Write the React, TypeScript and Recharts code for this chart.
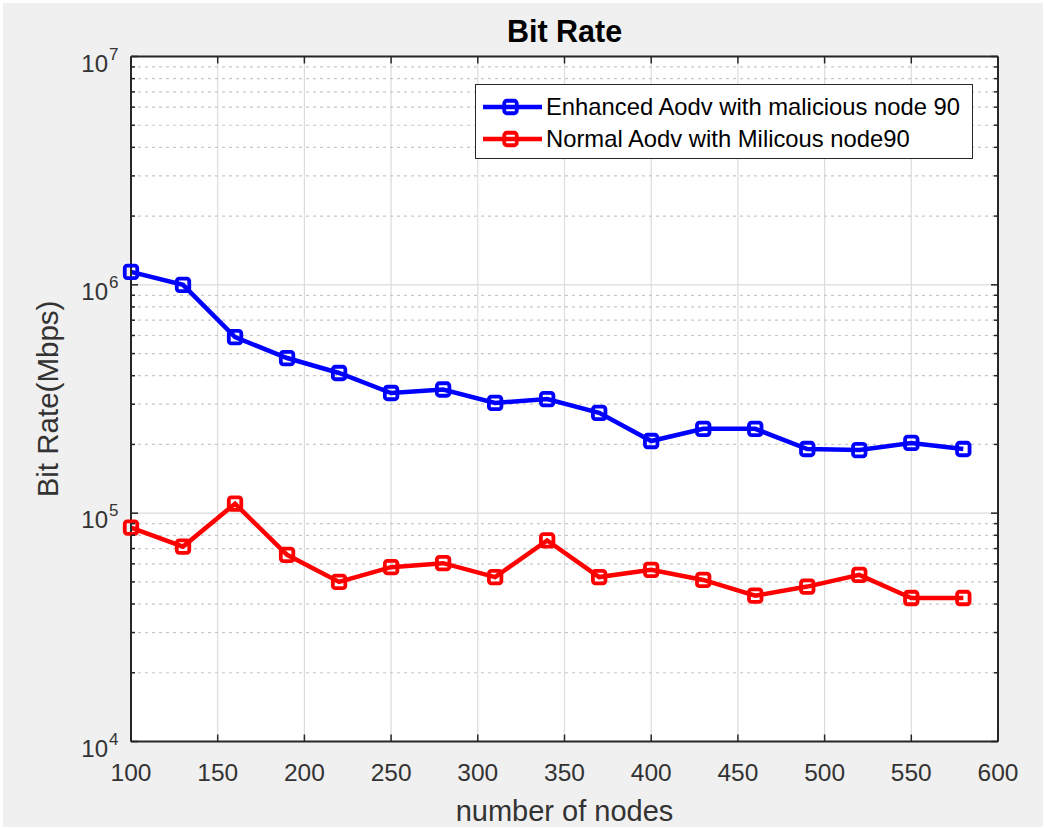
import React from 'react';
import { LineChart, Line, XAxis, YAxis, CartesianGrid, Legend, Label } from 'recharts';

// Number of nodes in the network (x axis)
const nodes = [100, 130, 160, 190, 220, 250, 280, 310, 340, 370, 400, 430, 460, 490, 520, 550, 580];

// Bit rate of the enhanced AODV protocol with a malicious node
const enhancedRate = [
  1.14e6, 1.0e6, 5.9e5, 4.78e5, 4.11e5, 3.36e5, 3.48e5, 3.04e5, 3.16e5,
  2.75e5, 2.07e5, 2.34e5, 2.34e5, 1.91e5, 1.89e5, 2.03e5, 1.91e5,
];

// Bit rate of the normal AODV protocol with a malicious node
const normalRate = [
  8.65e4, 7.14e4, 1.1e5, 6.57e4, 5.0e4, 5.8e4, 6.04e4, 5.25e4, 7.6e4,
  5.25e4, 5.65e4, 5.1e4, 4.35e4, 4.77e4, 5.37e4, 4.25e4, 4.25e4,
];

const seriesNames = ['Enhanced Aodv with malicious node 90', 'Normal Aodv with Milicous node90'];

const xTicks = [100, 150, 200, 250, 300, 350, 400, 450, 500, 550, 600];
const yMajorTicks = [1e4, 1e5, 1e6, 1e7];
const yMinorTicks = [
  2e4, 3e4, 4e4, 5e4, 6e4, 7e4, 8e4, 9e4,
  2e5, 3e5, 4e5, 5e5, 6e5, 7e5, 8e5, 9e5,
  2e6, 3e6, 4e6, 5e6, 6e6, 7e6, 8e6, 9e6,
];
const yAllTicks = [...yMajorTicks, ...yMinorTicks].sort((a, b) => a - b);

const data = nodes.map((n, i) => ({ nodes: n, enhanced: enhancedRate[i], normal: normalRate[i] }));

const FONT = '"Liberation Sans", Arial, Helvetica, sans-serif';
const AXIS_COLOR = '#262626';
const TEXT_COLOR = '#333333';
const LINE_W = 4.5;

const isDecade = (v: number) => {
  const l = Math.log10(v);
  return Math.abs(l - Math.round(l)) < 1e-9;
};

const LeftTick = (props: any) => {
  const { x, y, payload } = props;
  const v = payload.value;
  const major = isDecade(v);
  const len = major ? 7 : 4;
  return (
    <g>
      <line x1={x} y1={y} x2={x + len} y2={y} stroke={AXIS_COLOR} strokeWidth={1.5} />
      {major && (
        <>
          <text x={x - 23} y={y + 15} textAnchor="end" fontFamily={FONT} fontSize={24} fill={TEXT_COLOR}>
            10
          </text>
          <text x={x - 22} y={y + 3} textAnchor="start" fontFamily={FONT} fontSize={17} fill={TEXT_COLOR}>
            {Math.round(Math.log10(v))}
          </text>
        </>
      )}
    </g>
  );
};

const RightTick = (props: any) => {
  const { x, y, payload } = props;
  const len = isDecade(payload.value) ? 7 : 4;
  return <line x1={x} y1={y} x2={x - len} y2={y} stroke={AXIS_COLOR} strokeWidth={1.5} />;
};

const BottomTick = (props: any) => {
  const { x, y, payload } = props;
  return (
    <g>
      <line x1={x} y1={y} x2={x} y2={y - 7} stroke={AXIS_COLOR} strokeWidth={1.5} />
      <text x={x} y={y + 39.5} textAnchor="middle" fontFamily={FONT} fontSize={24.5} fill={TEXT_COLOR}>
        {payload.value}
      </text>
    </g>
  );
};

const TopTick = (props: any) => {
  const { x, y } = props;
  return <line x1={x} y1={y} x2={x} y2={y + 7} stroke={AXIS_COLOR} strokeWidth={1.5} />;
};

const makeSquare = (color: string) => (p: any) => (
  <rect
    key={`${color}-${p.index}`}
    x={p.cx - 6.25}
    y={p.cy - 6.25}
    width={12.5}
    height={12.5}
    rx={2.5}
    fill="none"
    stroke={color}
    strokeWidth={3.8}
  />
);

const LegendBox = (props: any) => {
  const items = props.payload || [];
  return (
    <div
      style={{
        width: 498,
        height: 75,
        boxSizing: 'border-box',
        border: `1.5px solid ${AXIS_COLOR}`,
        background: '#ffffff',
        padding: '6px 0 0 0',
        fontFamily: FONT,
        fontSize: 23.8,
        color: '#000000',
      }}
    >
      {items.map((it: any) => (
        <div key={it.value} style={{ display: 'flex', alignItems: 'center', height: 32 }}>
          <svg width={68} height={20} style={{ marginLeft: 2, flex: 'none' }}>
            <line x1={5} y1={10} x2={64} y2={10} stroke={it.color} strokeWidth={LINE_W} />
            <rect x={26.25} y={3.75} width={12.5} height={12.5} rx={2.5} fill="none" stroke={it.color} strokeWidth={3.8} />
          </svg>
          <span style={{ whiteSpace: 'nowrap' }}>{it.value}</span>
        </div>
      ))}
    </div>
  );
};

export default function App() {
  return (
    <div
      style={{
        position: 'absolute',
        left: 0,
        top: 0,
        width: 1045,
        height: 829,
        boxSizing: 'border-box',
        background: '#f0f0f0',
        borderTop: '3px solid #ffffff',
        borderLeft: '3px solid #ffffff',
        borderRight: '2px solid #ffffff',
        borderBottom: '2px solid #ffffff',
      }}
    >
      <div style={{ position: 'absolute', left: -3, top: -3 }}>
        <LineChart
          width={1045}
          height={829}
          data={data}
          margin={{ top: 46.5, right: 37, bottom: 27.5, left: 51 }}
        >
          <CartesianGrid
            fill="#ffffff"
            stroke="#dcdcdc"
            strokeWidth={1.2}
            horizontalValues={[1e5, 1e6]}
            verticalValues={xTicks}
          />
          <CartesianGrid
            stroke="#c8c8c8"
            strokeWidth={1.2}
            strokeDasharray="3 4"
            vertical={false}
            horizontalValues={yMinorTicks}
          />
          <XAxis
            xAxisId={0}
            dataKey="nodes"
            type="number"
            domain={[100, 600]}
            ticks={xTicks}
            interval={0}
            height={60}
            tickSize={0}
            tickMargin={0}
            tickLine={false}
            axisLine={{ stroke: AXIS_COLOR, strokeWidth: 2 }}
            tick={<BottomTick />}
          >
            <Label
              content={(p: any) => {
                const vb = p.viewBox;
                return (
                  <text x={vb.x + vb.width / 2} y={vb.y + 79.5} textAnchor="middle" fontFamily={FONT} fontSize={29} fill={TEXT_COLOR}>
                    number of nodes
                  </text>
                );
              }}
            />
          </XAxis>
          <XAxis
            xAxisId="top"
            orientation="top"
            dataKey="nodes"
            type="number"
            domain={[100, 600]}
            ticks={xTicks}
            interval={0}
            height={10}
            tickSize={0}
            tickMargin={0}
            tickLine={false}
            axisLine={{ stroke: AXIS_COLOR, strokeWidth: 2 }}
            tick={<TopTick />}
          >
            <Label
              content={(p: any) => {
                const vb = p.viewBox;
                return (
                  <text x={vb.x + vb.width / 2} y={vb.y + vb.height - 15} textAnchor="middle" fontFamily={FONT} fontSize={30.5} fontWeight="bold" fill="#000000">
                    Bit Rate
                  </text>
                );
              }}
            />
          </XAxis>
          <YAxis
            yAxisId={0}
            scale="log"
            domain={[1e4, 1e7]}
            allowDataOverflow
            ticks={yAllTicks}
            interval={0}
            width={80}
            tickSize={0}
            tickMargin={0}
            tickLine={false}
            axisLine={{ stroke: AXIS_COLOR, strokeWidth: 2 }}
            tick={<LeftTick />}
          >
            <Label
              content={(p: any) => {
                const vb = p.viewBox;
                const cx = vb.x + 7;
                const cy = vb.y + vb.height / 2;
                return (
                  <text x={cx} y={cy} transform={`rotate(-90, ${cx}, ${cy})`} textAnchor="middle" fontFamily={FONT} fontSize={29.5} fill={TEXT_COLOR}>
                    Bit Rate(Mbps)
                  </text>
                );
              }}
            />
          </YAxis>
          <YAxis
            yAxisId="right"
            orientation="right"
            scale="log"
            domain={[1e4, 1e7]}
            allowDataOverflow
            ticks={yAllTicks}
            interval={0}
            width={10}
            tickSize={0}
            tickMargin={0}
            tickLine={false}
            axisLine={{ stroke: AXIS_COLOR, strokeWidth: 2 }}
            tick={<RightTick />}
          />
          <Legend
            layout="horizontal"
            verticalAlign="middle"
            align="center"
            wrapperStyle={{ position: 'absolute', top: 84, left: 475, width: 498, height: 75 }}
            content={<LegendBox />}
          />
          <Line
            name={seriesNames[0]}
            dataKey="enhanced"
            type="linear"
            stroke="#0000ff"
            strokeWidth={LINE_W}
            dot={makeSquare('#0000ff')}
            activeDot={false}
            isAnimationActive={false}
          />
          <Line
            name={seriesNames[1]}
            dataKey="normal"
            type="linear"
            stroke="#ff0000"
            strokeWidth={LINE_W}
            dot={makeSquare('#ff0000')}
            activeDot={false}
            isAnimationActive={false}
          />
        </LineChart>
      </div>
    </div>
  );
}
